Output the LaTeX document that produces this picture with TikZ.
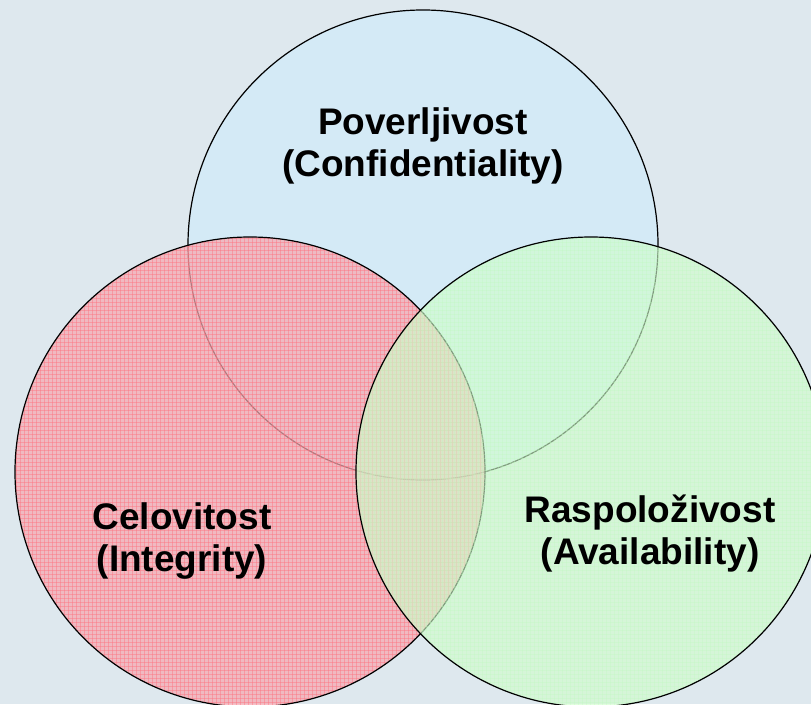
\documentclass[tikz,border=0pt]{standalone}
\usepackage{fontspec}
\setmainfont{Liberation Sans}
\definecolor{bgcol}{RGB}{222,232,238}
\definecolor{topfill}{RGB}{212,234,246}
\definecolor{redfill}{RGB}{247,168,176}
\definecolor{redline}{RGB}{255,115,128}
\definecolor{greenfill}{RGB}{208,254,204}
\definecolor{greenline}{RGB}{190,250,190}
\begin{document}
\begin{tikzpicture}[x=1pt,y=-1pt,
  ring/.style={draw=black,line width=1.2pt},
  label/.style={font=\fontsize{37}{42}\selectfont\bfseries,align=center,text=black,inner sep=0pt}]
\useasboundingbox (0,0) rectangle (811,704);
\fill[bgcol] (0,0) rectangle (811,704);
\clip (0,0) rectangle (811,704);
% top circle
\fill[topfill] (423,245) circle (235);
\draw[ring] (423,245) circle (235);
% left circle
\fill[redfill,fill opacity=0.72] (250,472) circle (235);
\begin{scope}
  \clip (250,472) circle (235);
  \foreach \k in {0,...,121} {
    \draw[redline,line width=0.8pt,draw opacity=0.45] (12+4*\k,232) -- (12+4*\k,710);
    \draw[redline,line width=0.8pt,draw opacity=0.45] (12,234+4*\k) -- (490,234+4*\k);
  }
\end{scope}
\draw[ring] (250,472) circle (235);
% right circle
\fill[greenfill,fill opacity=0.62] (591,472) circle (235);
\begin{scope}
  \clip (591,472) circle (235);
  \foreach \k in {0,...,121} {
    \draw[greenline,line width=0.6pt,draw opacity=0.3] (354+4*\k,232) -- (354+4*\k,710);
    \draw[greenline,line width=0.6pt,draw opacity=0.3] (354,234+4*\k) -- (830,234+4*\k);
  }
\end{scope}
\draw[ring] (591,472) circle (235);
% labels
\node[label] (conf) at (423,146) {Poverljivost\\(Confidentiality)};
\node[label] (integ) at (182,541) {Celovitost\\(Integrity)};
\node[label] (avail) at (650,534) {Raspoloživost\\(Availability)};
\end{tikzpicture}
\end{document}
